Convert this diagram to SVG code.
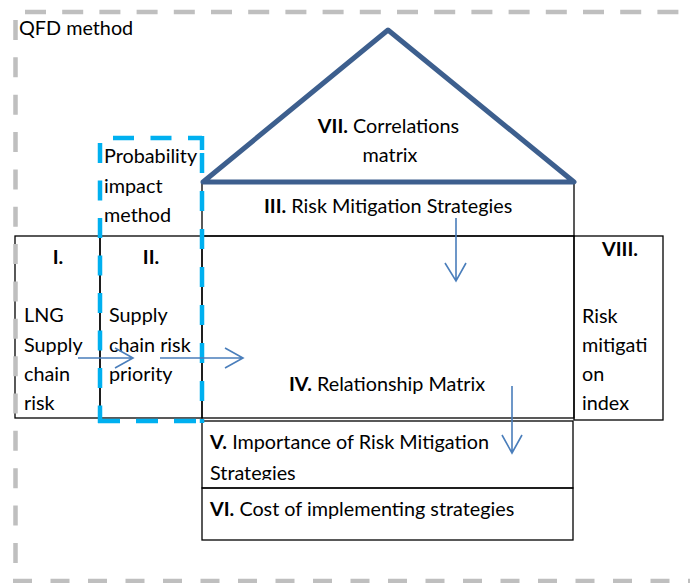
<svg xmlns="http://www.w3.org/2000/svg" width="690" height="583" viewBox="0 0 690 583">
<style>
text{font-family:Lato,"Carlito","Liberation Sans",sans-serif;font-size:19.8px;fill:#000}
.b{font-weight:bold}
.box{fill:none;stroke:#000;stroke-width:1.3}
.gray{fill:none;stroke:#bfbfbf;stroke-width:4.5}
.cyan{fill:none;stroke:#00b0f0;stroke-width:4.5}
.tri{fill:none;stroke:#3d5f8e;stroke-width:5;stroke-linejoin:round}
.conn{fill:none;stroke:#4a7ebb;stroke-width:1.6}
</style>
<defs>
<clipPath id="clipV"><rect x="202" y="421" width="371" height="59"/></clipPath>
</defs>
<rect width="690" height="583" fill="#fff"/>

<g id="node-III">
<rect class="box" x="202" y="183" width="372" height="53"/>
<text x="264" y="213"><tspan class="b">III.</tspan> Risk Mitigation Strategies</text>
</g>
<g id="node-IV">
<rect class="box" x="202" y="236" width="372" height="182"/>
<text x="289" y="391"><tspan class="b">IV.</tspan> Relationship Matrix</text>
</g>
<g id="node-I">
<rect class="box" x="15" y="236" width="85" height="182"/>
<text class="b" x="58" y="264" text-anchor="middle">I.</text>
<text x="24" y="322">LNG</text>
<text x="24" y="351.5">Supply</text>
<text x="24" y="381">chain</text>
<text x="24" y="410">risk</text>
</g>
<g id="node-II">
<rect class="box" x="100" y="236" width="102" height="182"/>
<text class="b" x="151" y="264" text-anchor="middle">II.</text>
<text x="109" y="322">Supply</text>
<text x="109" y="351.5">chain risk</text>
<text x="109" y="381">priority</text>
</g>
<g id="node-V">
<rect class="box" x="202" y="421" width="371" height="67"/>
<g clip-path="url(#clipV)">
<text x="210" y="449"><tspan class="b">V.</tspan> Importance of Risk Mitigation</text>
<text x="210" y="480">Strategies</text>
</g>
</g>
<g id="node-VI">
<rect class="box" x="202" y="488" width="371" height="52"/>
<text x="210" y="516"><tspan class="b">VI.</tspan> Cost of implementing strategies</text>
</g>
<g id="node-VIII">
<rect class="box" x="574" y="236" width="89" height="184"/>
<text class="b" x="620" y="256" text-anchor="middle">VIII.</text>
<text x="582" y="323">Risk</text>
<text x="582" y="352">mitigati</text>
<text x="582" y="381">on</text>
<text x="582" y="410">index</text>
</g>
<g id="node-VII">
<polygon class="tri" points="203,182 388,30 574,182"/>
<text x="388.5" y="133" text-anchor="middle"><tspan class="b">VII.</tspan> Correlations</text>
<text x="390" y="162" text-anchor="middle">matrix</text>
</g>
<g id="node-QFD">
<line class="gray" x1="25" y1="12" x2="690" y2="12" stroke-dasharray="21 16.2"/>
<line class="gray" x1="15.5" y1="20" x2="15.5" y2="565" stroke-dasharray="20 17.35"/>
<line class="gray" x1="13" y1="581" x2="690" y2="581" stroke-dasharray="19 18.5"/>
<text x="19" y="35">QFD method</text>
</g>
<g id="node-prob">
<line class="cyan" x1="100" y1="138" x2="202" y2="138" stroke-dasharray="21 16.5" stroke-dashoffset="24.5"/>
<line class="cyan" x1="202" y1="136" x2="202" y2="150"/>
<line class="cyan" x1="202" y1="138" x2="202" y2="423" stroke-dasharray="20 18" stroke-dashoffset="23"/>
<line class="cyan" x1="100" y1="138" x2="100" y2="423" stroke-dasharray="20 17.5" stroke-dashoffset="32.5"/>
<line class="cyan" x1="98" y1="421" x2="202" y2="421" stroke-dasharray="22 16"/>
<text x="104" y="163">Probability</text>
<text x="104" y="193">impact</text>
<text x="104" y="222">method</text>
</g>
<g id="connectors">
<path class="conn" d="M78,358 H133 M115,348 L133,358 L115,368"/>
<path class="conn" d="M160,358 H243 M225,348 L243,358 L225,368"/>
<path class="conn" d="M456,218 V281 M445,263 L456,281 L466,263"/>
<path class="conn" d="M512,386 V453 M502,435 L512,453 L522,435"/>
</g>
</svg>
